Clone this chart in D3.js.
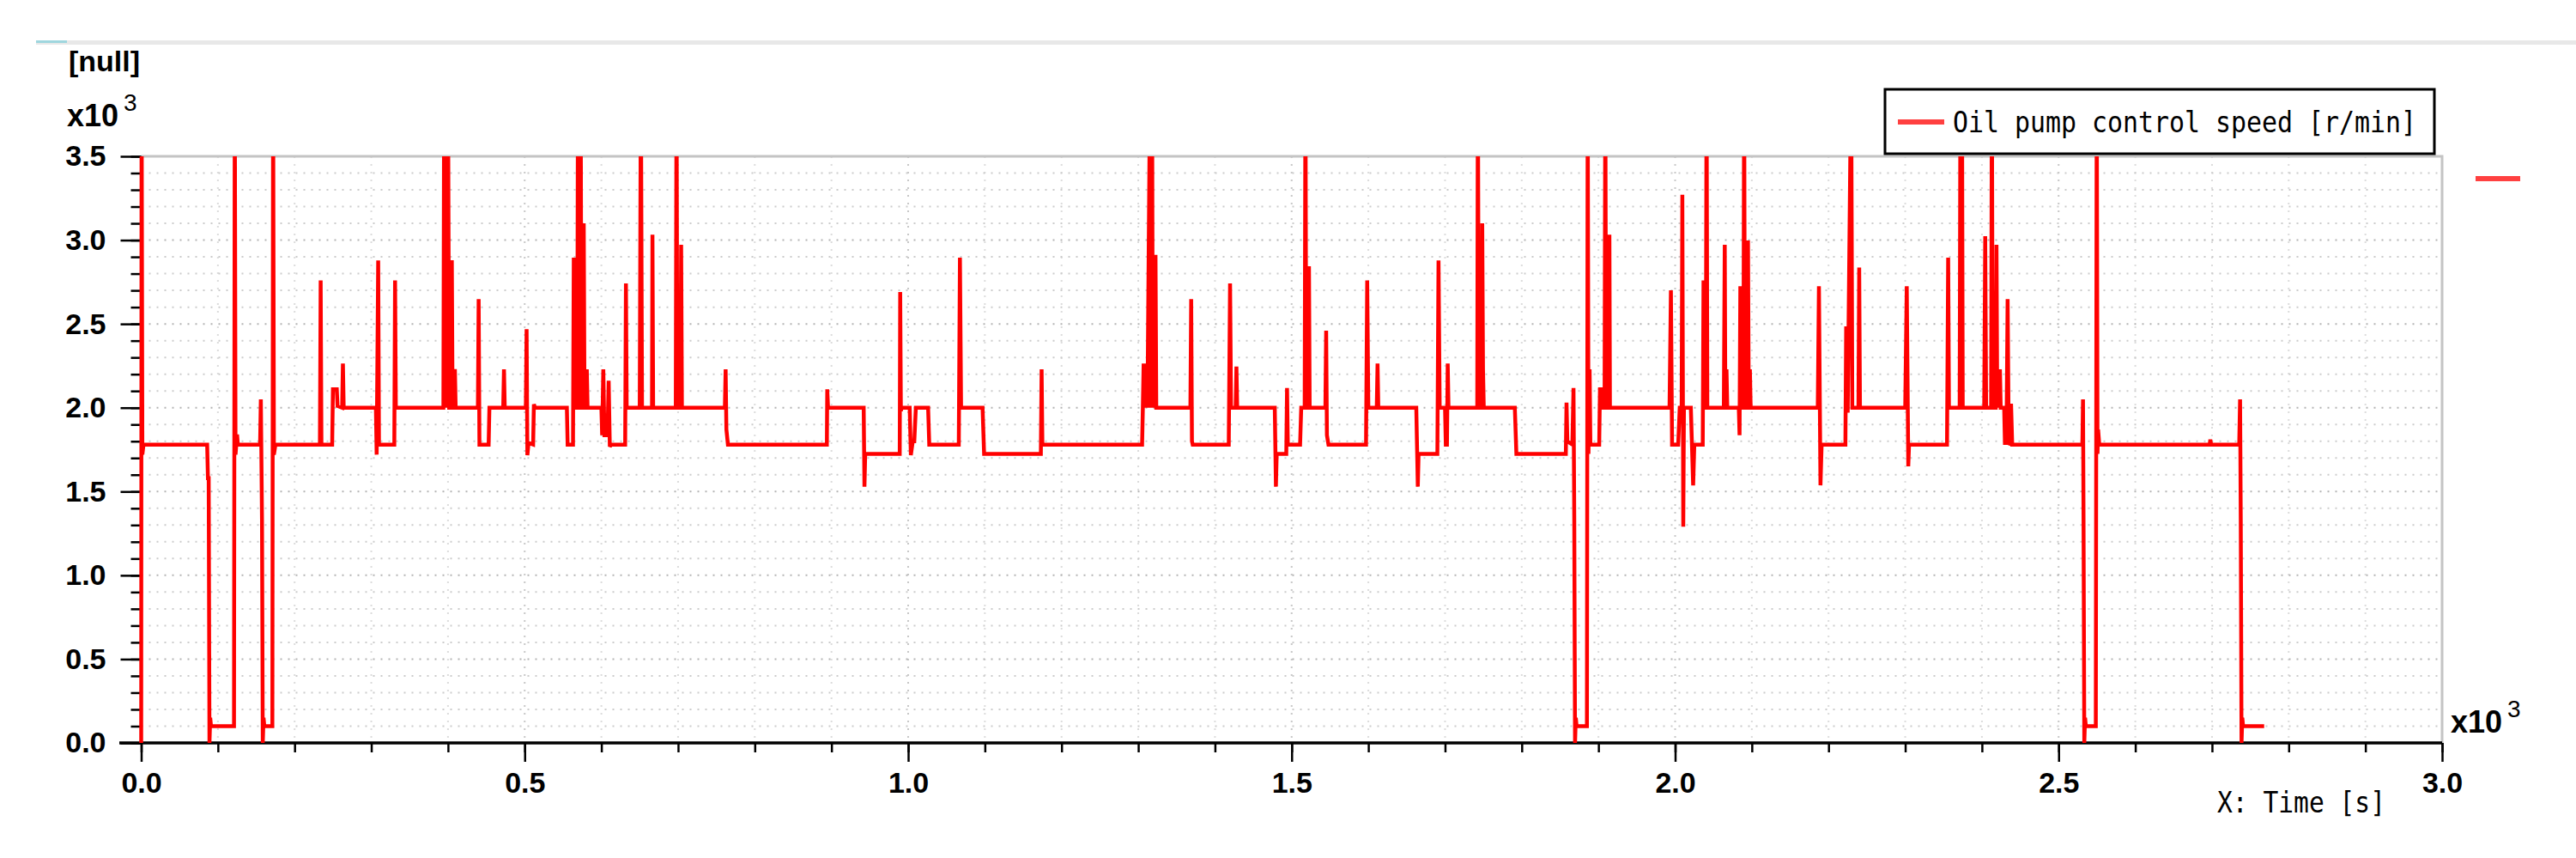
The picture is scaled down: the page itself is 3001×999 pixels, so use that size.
<!DOCTYPE html>
<html lang="en">
<head>
<meta charset="UTF-8">
<script src="https://cdn.jsdelivr.net/npm/d3@7"></script>
<title>Oil pump control speed</title>
<style>
  html, body { margin: 0; padding: 0; background: #fff; }
  svg { display: block; }
  .tick text { font-family: "Liberation Sans", Arial, sans-serif; font-weight: bold; font-size: 34px; fill: #000; }
</style>
</head>
<body>
<div id="chart"></div>
<script>

// Trace: time [s] and oil pump speed [r/min]
// (spikes beyond the 3500 top are clipped by the plot box)
var timeS = [
  0, 0.5, 1.5, 3, 86, 87, 88, 89, 90, 91,
  121, 122, 123, 125, 126, 155, 156, 157.5, 158.5, 159.5,
  160.5, 171, 172, 173, 175, 233, 234, 235, 249, 250,
  255, 256, 262, 263, 264, 306, 307, 309, 310, 330,
  331, 332, 394, 395, 396, 397, 399, 400, 401.5, 404.5,
  405, 406, 408.5, 409, 410, 439, 440, 441, 453, 454,
  472, 473, 474, 501.5, 502.5, 503.5, 505, 511, 512, 513.5,
  555, 556, 563, 564, 565, 568.5, 569.5, 570.5, 572, 573,
  574, 576, 577, 578, 580, 581, 582, 600, 601, 602.5,
  604, 608, 609.5, 611, 613, 631, 632, 633, 650, 651.5,
  653, 666, 666.6, 667.5, 697, 698, 699, 703, 704, 705,
  761, 762, 763, 765, 894, 894.5, 895.5, 942, 943, 944,
  989, 989.6, 990.5, 991.5, 1002, 1003.5, 1006, 1008, 1010, 1026,
  1027.5, 1066, 1067.5, 1069, 1097, 1099, 1173, 1174, 1175, 1305,
  1306, 1307, 1308, 1309, 1310, 1311, 1312, 1315.5, 1316.5, 1318,
  1319, 1322.5, 1323.5, 1368, 1369, 1370, 1371, 1418, 1419.7, 1421,
  1427, 1428, 1429, 1478, 1479.5, 1480.5, 1493, 1494, 1495, 1511,
  1512.5, 1517, 1518, 1519, 1522, 1522.6, 1523.5, 1544, 1545, 1546,
  1548, 1597, 1598.5, 1600, 1611, 1612, 1613, 1662.5, 1664.5, 1665.5,
  1690, 1691.5, 1693, 1700, 1701, 1702.5, 1703.5, 1704.5, 1742, 1742.8,
  1744, 1748, 1748.5, 1749.5, 1750.5, 1791, 1793, 1857.5, 1858.4, 1859.5,
  1866, 1867.5, 1868.5, 1869.5, 1870.5, 1871.5, 1885, 1886, 1887, 1888.5,
  1889.5, 1901, 1902, 1905, 1906, 1908, 1909, 1910, 1913.5, 1914.3,
  1915, 1992.7, 1994.5, 1996, 2004, 2006, 2008.5, 2009.4, 2010.6, 2011.5,
  2020.5, 2023.5, 2025, 2036, 2037, 2038.5, 2040, 2041, 2042, 2063.5,
  2064.7, 2065.5, 2067, 2068, 2083, 2084, 2085, 2086, 2089, 2090,
  2091, 2094, 2095, 2096, 2097.5, 2098.5, 2186, 2187.5, 2189.5, 2191,
  2222, 2223, 2225, 2229.5, 2231, 2239, 2240, 2241, 2300, 2302,
  2304, 2305, 2354.5, 2356, 2357, 2371, 2372, 2373, 2374, 2375,
  2403, 2404.3, 2405.5, 2412, 2413, 2414, 2418, 2419, 2420, 2423.5,
  2424.5, 2429, 2430, 2432, 2433.5, 2435, 2437, 2438, 2439.5, 2531,
  2531.8, 2532.5, 2533.5, 2534.5, 2535.5, 2548.5, 2549.7, 2550.7, 2551.5, 2553,
  2697, 2697.8, 2698.8, 2735.5, 2736.6, 2737.5, 2738.5, 2739.5, 2740.5, 2768
];
var speedRpm = [
  0, 4000, 1720, 1780, 1780, 1580, 1580, 0, 150, 100,
  100, 4000, 1720, 1840, 1780, 1780, 2050, 1330, 0, 150,
  100, 100, 4000, 1720, 1780, 1780, 2760, 1780, 1780, 2110,
  2110, 2010, 2000, 2263, 2000, 2000, 1720, 2878, 1780, 1780,
  2760, 2000, 2000, 4000, 2100, 4000, 2000, 4000, 2000, 2000,
  2880, 2000, 2000, 2230, 2000, 2000, 2648, 1780, 1780, 2000,
  2000, 2229, 2000, 2000, 2468, 1717, 1790, 1780, 2020, 2000,
  2000, 1780, 1780, 2895, 2000, 2000, 4000, 2000, 2000, 4000,
  2000, 2000, 3100, 2000, 2000, 2229, 2000, 2000, 1836, 2229,
  1836, 1836, 2161, 1768, 1780, 1780, 2742, 2000, 2000, 4000,
  2000, 2000, 3032, 2000, 2000, 4000, 2000, 2000, 2972, 2000,
  2000, 2229, 1870, 1780, 1780, 2110, 2000, 2000, 1529, 1725,
  1725, 2690, 1980, 2000, 2000, 1717, 1800, 1800, 2000, 2000,
  1780, 1780, 2895, 2000, 2000, 1725, 1725, 2229, 1780, 1780,
  2000, 2263, 2000, 2263, 2000, 2263, 2000, 4000, 2000, 4000,
  2000, 2912, 2000, 2000, 2648, 1800, 1780, 1780, 2742, 2000,
  2000, 2245, 2000, 2000, 1529, 1725, 1725, 2118, 1780, 1780,
  2000, 2000, 4000, 2000, 2000, 2844, 2000, 2000, 2460, 1836,
  1780, 1780, 2759, 2000, 2000, 2263, 2000, 2000, 1529, 1725,
  1725, 2878, 2000, 2000, 1780, 1780, 2263, 2000, 2000, 4000,
  2000, 2000, 3100, 2229, 2000, 2000, 1725, 1725, 2030, 1800,
  1780, 2118, 1330, 0, 150, 100, 100, 4000, 1725, 2229,
  1780, 1780, 2110, 2110, 2000, 2000, 4000, 2000, 2000, 3032,
  2000, 2000, 2700, 1780, 1780, 2000, 2000, 3271, 1290, 2000,
  2000, 1537, 1780, 1780, 2759, 2000, 2000, 4000, 2000, 2000,
  2972, 2000, 2229, 2000, 2000, 1836, 2725, 2000, 2000, 4000,
  2000, 2000, 2998, 2000, 2229, 2000, 2000, 2725, 1537, 1780,
  1780, 2485, 1970, 4000, 2000, 2000, 2836, 2000, 2000, 2725,
  1650, 1780, 1780, 2895, 2000, 2000, 4000, 2000, 4000, 2000,
  2000, 3023, 2000, 2000, 4000, 2000, 2000, 2972, 2000, 2229,
  2000, 2000, 1790, 1790, 2648, 1780, 1790, 2024, 1780, 1780,
  2050, 1330, 0, 150, 100, 100, 4000, 1725, 1870, 1780,
  1780, 1810, 1780, 1780, 2050, 1330, 0, 150, 100, 100
];

// axis ticks (values in s and r/min; shown in x10^3)
var xMajorTicks = [0, 500, 1000, 1500, 2000, 2500, 3000];
var yMajorTicks = [0, 500, 1000, 1500, 2000, 2500, 3000, 3500];
var seriesName = "Oil pump control speed [r/min]";
var xTitle = "X: Time [s]";
var yUnit = "[null]";

// Page and plot box
var W = 3001, H = 999;
var box = {left: 164.5, top: 182, right: 2845, bottom: 865};

var svg = d3.select("#chart")
    .append("svg")
    .attr("width", W)
    .attr("height", H);

var x = d3.scaleLinear().domain([0, 3000]).range([box.left, box.right]),
    y = d3.scaleLinear().domain([0, 3500]).range([box.bottom, box.top]);

// thin window strip on top
svg.append("rect").attr("x", 42).attr("y", 47).attr("width", W - 42).attr("height", 5).attr("fill", "#e8e8e8");
svg.append("rect").attr("x", 42).attr("y", 47).attr("width", 36).attr("height", 3).attr("fill", "#9fd6de");

// Grid (dotted)
var grid = svg.append("g");
grid.selectAll(".gx")
  .data(d3.range(100, 3000, 100))
  .enter().append("line")
    .attr("x1", function(d) { return x(d); })
    .attr("x2", function(d) { return x(d); })
    .attr("y1", box.top)
    .attr("y2", box.bottom)
    .attr("stroke", function(d) { return d % 500 === 0 ? "#c8c8c8" : "#dcdcdc"; })
    .attr("stroke-width", 2)
    .attr("stroke-dasharray", "2,7");

grid.selectAll(".gy")
  .data(d3.range(100, 3500, 100))
  .enter().append("line")
    .attr("x1", box.left)
    .attr("x2", box.right)
    .attr("y1", function(d) { return y(d); })
    .attr("y2", function(d) { return y(d); })
    .attr("stroke", function(d) { return d % 500 === 0 ? "#b4b4b4" : "#cccccc"; })
    .attr("stroke-width", 2)
    .attr("stroke-dasharray", "2,7");

// gray frame top / right
svg.append("path")
  .attr("d", "M" + box.left + "," + box.top + "H" + box.right + "V" + box.bottom)
  .attr("fill", "none")
  .attr("stroke", "#c4c4c4")
  .attr("stroke-width", 3);

// Axes
function styleAxis(sel) {
  sel.select(".domain").remove();
  sel.selectAll(".tick line").attr("stroke", "#000").attr("stroke-width", 2.5);
}

svg.append("g")
  .attr("transform", "translate(0," + box.bottom + ")")
  .call(d3.axisBottom(x).tickValues(d3.range(0, 3001, 100)).tickSize(11).tickFormat(""))
  .call(styleAxis);

svg.append("g")
  .attr("transform", "translate(0," + box.bottom + ")")
  .call(d3.axisBottom(x).tickValues(xMajorTicks).tickSize(22).tickPadding(12)
    .tickFormat(function(d) { return (d / 1000).toFixed(1); }))
  .call(styleAxis);

svg.append("g")
  .attr("transform", "translate(" + box.left + ",0)")
  .call(d3.axisLeft(y).tickValues(d3.range(0, 3501, 100)).tickSize(12).tickFormat(""))
  .call(styleAxis);

svg.append("g")
  .attr("transform", "translate(" + box.left + ",0)")
  .call(d3.axisLeft(y).tickValues(yMajorTicks).tickSize(24).tickPadding(17)
    .tickFormat(function(d) { return (d / 1000).toFixed(1); }))
  .call(styleAxis);

svg.append("line")
  .attr("x1", 139).attr("x2", box.right)
  .attr("y1", box.bottom).attr("y2", box.bottom)
  .attr("stroke", "#000").attr("stroke-width", 3.5);

svg.append("line")
  .attr("x1", box.left).attr("x2", box.left)
  .attr("y1", box.top).attr("y2", box.bottom)
  .attr("stroke", "#000").attr("stroke-width", 3);

// Data line
svg.append("clipPath").attr("id", "plotClip")
  .append("rect")
    .attr("x", box.left - 3)
    .attr("y", box.top)
    .attr("width", box.right - box.left + 3)
    .attr("height", box.bottom - box.top + 1);

var points = timeS.map(function(t, i) { return [t, speedRpm[i]]; });

var line = d3.line()
  .x(function(d) { return x(d[0]); })
  .y(function(d) { return y(d[1]); });

svg.append("path")
  .datum(points)
  .attr("clip-path", "url(#plotClip)")
  .attr("d", line)
  .attr("fill", "none")
  .attr("stroke", "#ff0000")
  .attr("stroke-width", 4.5)
  .attr("stroke-linejoin", "miter")
  .attr("stroke-miterlimit", 2);

// Labels
var sans = '"Liberation Sans", Arial, sans-serif';
var mono = '"DejaVu Sans Mono", "Liberation Mono", monospace';

svg.append("text")
  .attr("x", 80).attr("y", 83)
  .attr("font-family", sans).attr("font-weight", "bold").attr("font-size", 34)
  .text(yUnit);

function tenCubed(xPos, yBase) {
  var t = svg.append("text")
    .attr("x", xPos).attr("y", yBase)
    .attr("font-family", sans).attr("font-weight", "bold").attr("font-size", 36);
  t.append("tspan").text("x10");
  t.append("tspan")
    .attr("dx", 6).attr("dy", -18)
    .attr("font-size", 28).attr("font-weight", "normal")
    .text("3");
}
tenCubed(78, 147);
tenCubed(2855, 853);

svg.append("text")
  .attr("x", 2583).attr("y", 946)
  .attr("font-family", mono).attr("font-size", 33)
  .attr("textLength", 196).attr("lengthAdjust", "spacingAndGlyphs")
  .text(xTitle);

// Legend
var legend = svg.append("g");
legend.append("rect")
  .attr("x", 2196).attr("y", 104)
  .attr("width", 640).attr("height", 75)
  .attr("fill", "#fff")
  .attr("stroke", "#000")
  .attr("stroke-width", 3);
legend.append("line")
  .attr("x1", 2211).attr("x2", 2265)
  .attr("y1", 142).attr("y2", 142)
  .attr("stroke", "#ff4040").attr("stroke-width", 6);
legend.append("text")
  .attr("x", 2275).attr("y", 154)
  .attr("font-family", mono).attr("font-size", 33)
  .attr("textLength", 540).attr("lengthAdjust", "spacingAndGlyphs")
  .text(seriesName);

// little series marker on the right
svg.append("line")
  .attr("x1", 2884).attr("x2", 2936)
  .attr("y1", 208).attr("y2", 208)
  .attr("stroke", "#ff4040").attr("stroke-width", 6);

</script>
</body>
</html>
